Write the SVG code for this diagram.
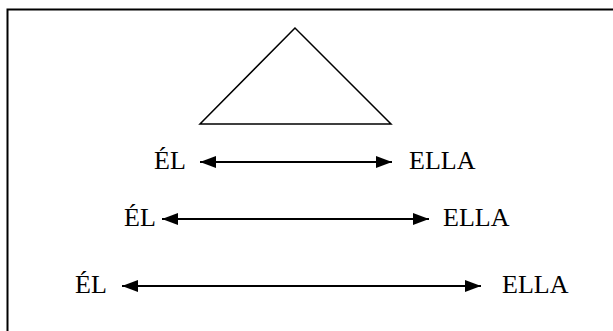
<svg xmlns="http://www.w3.org/2000/svg" width="613" height="331" viewBox="0 0 613 331">
<defs>
<style>
.t{font-family:'Liberation Serif','Times New Roman',Tinos,'DejaVu Serif',serif;font-size:26px;fill:#000}
.c{stroke:#000;stroke-width:2.2;fill:none}
</style>
<marker id="ah" markerUnits="userSpaceOnUse" markerWidth="18" markerHeight="14" refX="16" refY="7" orient="auto-start-reverse">
<path d="M0,1 L16,7 L0,13 Z" fill="#000"/>
</marker>
</defs>
<rect width="613" height="331" fill="#fff"/>
<g id="frame"><path d="M7.5,331 V9.5 H613" fill="none" stroke="#000" stroke-width="2"/></g>
<g id="triangle"><path d="M295,28 L200,124 L391,124 Z" fill="none" stroke="#000" stroke-width="1.5"/></g>
<g id="row1"><text class="t" x="154" y="169" font-family="Liberation Serif, serif">ÉL</text><text class="t" x="409" y="169" font-family="Liberation Serif, serif">ELLA</text></g>
<g id="row2"><text class="t" x="124" y="226" font-family="Liberation Serif, serif">ÉL</text><text class="t" x="443" y="226" font-family="Liberation Serif, serif">ELLA</text></g>
<g id="row3"><text class="t" x="75" y="293" font-family="Liberation Serif, serif">ÉL</text><text class="t" x="502" y="293" font-family="Liberation Serif, serif">ELLA</text></g>
<g id="connectors">
<line class="c" x1="200" y1="162" x2="392" y2="162" marker-start="url(#ah)" marker-end="url(#ah)"/>
<line class="c" x1="162" y1="219" x2="429" y2="219" marker-start="url(#ah)" marker-end="url(#ah)"/>
<line class="c" x1="122" y1="286" x2="481" y2="286" marker-start="url(#ah)" marker-end="url(#ah)"/>
</g>
</svg>
